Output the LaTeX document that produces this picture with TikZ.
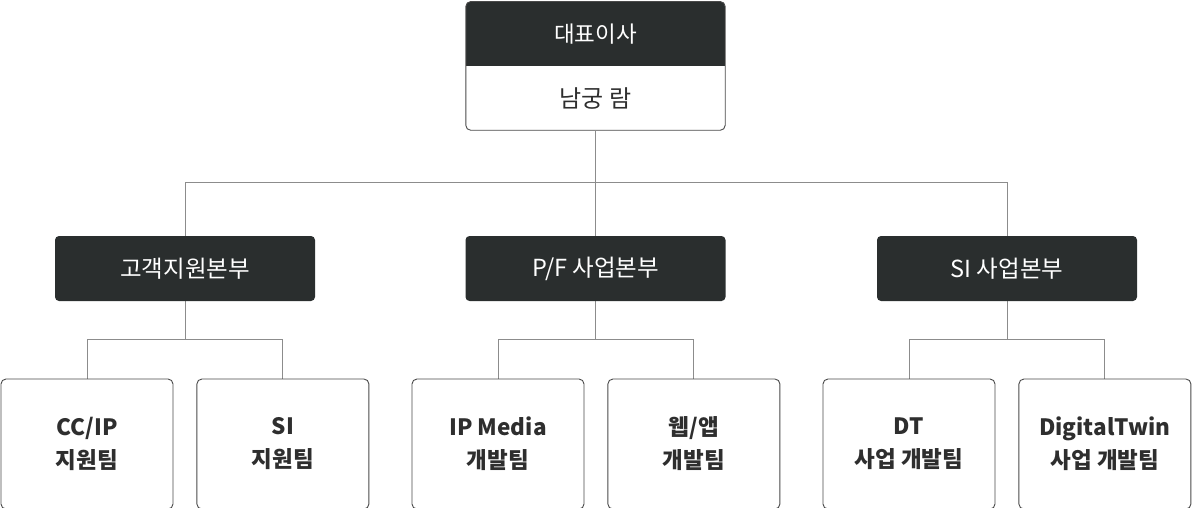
\documentclass[tikz,border=0pt]{standalone}
\usepackage{fontspec}
\setmainfont{Noto Sans CJK KR}
\usetikzlibrary{positioning,backgrounds}

\definecolor{boxdark}{HTML}{2A2E2E}
\definecolor{boxline}{HTML}{4A4A4A}
\definecolor{linkgray}{HTML}{8C8C8C}
\definecolor{textdark}{HTML}{2E2E2E}

\tikzset{
    headbox/.style={fill=boxdark, text=white, rounded corners=4pt, minimum width=260pt, minimum height=65pt, inner sep=0pt, font=\fontsize{23.5}{26}\selectfont},
    namebox/.style={text=textdark, minimum width=259pt, minimum height=64pt, inner sep=0pt, font=\fontsize{22.5}{26}\selectfont},
    teambox/.style={draw=boxline, line width=0.9pt, fill=white, rounded corners=5pt, minimum width=172pt, minimum height=130pt, inner sep=0pt, align=center, text=textdark, font=\bfseries\fontsize{22.5}{33}\selectfont},
    link/.style={draw=linkgray, line width=0.9pt}
}

\begin{document}
\begin{tikzpicture}[x=1pt, y=-1pt]

\useasboundingbox (0,0) rectangle (1192,508);

% top: ceo
\node[namebox, anchor=north] (ceo) at (595.5,1.5) {\textcolor{white}{대표이사}};
\node[namebox, anchor=north, font=\fontsize{24}{26}\selectfont] (ceoname) at (ceo.south) {남궁 람};
\begin{scope}[on background layer]
    \begin{scope}
        \clip[rounded corners=5pt] (ceo.north west) rectangle (ceoname.south east);
        \fill[boxdark] (ceo.north west) rectangle (ceo.south east);
    \end{scope}
    \draw[boxline, line width=0.9pt, rounded corners=5pt] (ceo.north west) rectangle (ceoname.south east);
\end{scope}

% divisions
\node[headbox] (cs) at (185,268.5) {고객지원본부};
\node[headbox] (pf) at (595.5,268.5) {P/F 사업본부};
\node[headbox] (si) at (1007,268.5) {SI 사업본부};

% teams
\node[teambox] (cc) at (87,444) {CC/IP\\지원팀};
\node[teambox, right=23pt of cc] (csi) {SI\\지원팀};
\node[teambox] (ipm) at (498,444) {IP Media\\개발팀};
\node[teambox, right=23pt of ipm] (web) {웹/앱\\개발팀};
\node[teambox] (dt) at (909,444) {DT\\사업 개발팀};
\node[teambox, right=23pt of dt] (twin) {DigitalTwin\\사업 개발팀};

% links
\coordinate (hub) at (595.5,182);
\begin{scope}[on background layer]
\draw[link] (ceoname.south) -- (pf.north);
\draw[link] (hub) -| (cs.north);
\draw[link] (hub) -| (si.north);

\foreach \dept/\lchild/\rchild in {cs/cc/csi, pf/ipm/web, si/dt/twin}
{
    \coordinate (\dept fork) at ([yshift=-38pt]\dept.south);
    \draw[link] (\dept.south) -- (\dept fork);
    \draw[link] (\dept fork) -| (\lchild.north);
    \draw[link] (\dept fork) -| (\rchild.north);
}
\end{scope}

\end{tikzpicture}
\end{document}
